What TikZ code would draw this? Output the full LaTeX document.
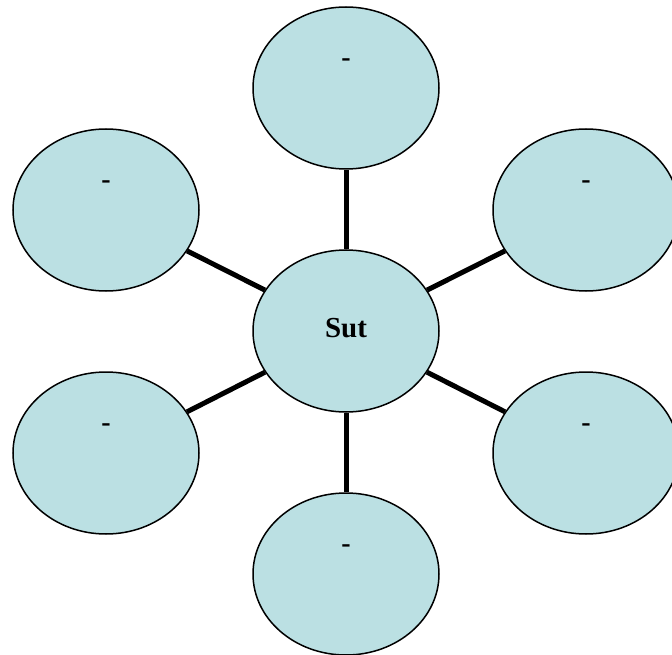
\documentclass[tikz,border=0pt]{standalone}
\usepackage{fontspec}
\setmainfont{Liberation Serif}
\usetikzlibrary{shapes.geometric}
\definecolor{bubble}{RGB}{187,224,227}
\tikzset{
  bubble/.style={ellipse, draw=black, fill=bubble, line width=1.5pt,
    minimum width=186pt, minimum height=162pt, inner sep=0pt},
  spoke/.style={line width=5pt},
  dashtext/.style={font=\fontsize{28pt}{28pt}\selectfont\bfseries, inner sep=0pt},
  maintext/.style={font=\fontsize{29pt}{29pt}\selectfont\bfseries, inner sep=0pt}
}
\begin{document}
\begin{tikzpicture}[x=1pt,y=-1pt]
\useasboundingbox (0,0) rectangle (672,655);
\coordinate (pC) at (346,331);
\coordinate (pT) at (346,88);
\coordinate (pTL) at (106,210);
\coordinate (pTR) at (586,210);
\coordinate (pBL) at (106,453);
\coordinate (pBR) at (586,453);
\coordinate (pB) at (346,574);
\node[bubble] (C) at (pC) {};
\foreach \n in {T,TL,TR,BL,BR,B}{
  \node[bubble] (\n) at (p\n) {};
  \draw[spoke] (C) -- (\n);
  \node[dashtext] (d\n) at ([yshift=25pt]p\n) {-};
}
\node[maintext] (sut) at ([yshift=3pt]pC) {Sut};
\end{tikzpicture}
\end{document}
